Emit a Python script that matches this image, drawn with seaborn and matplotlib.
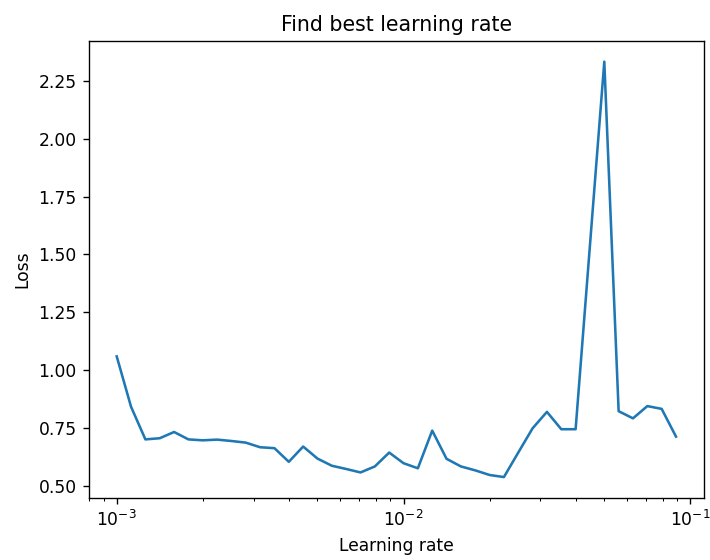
import numpy as np
import pandas as pd
import seaborn as sns
import matplotlib
matplotlib.use("Agg")
import matplotlib.pyplot as plt

# learning rates tried: 20 steps per decade starting at 1e-3
lr_exponents = np.arange(40) / 20 - 3
learning_rates = 10 ** lr_exponents

losses = [1.059, 0.841, 0.700, 0.705, 0.732, 0.700, 0.696, 0.699, 0.693, 0.686,
          0.666, 0.662, 0.603, 0.669, 0.617, 0.586, 0.572, 0.557, 0.583, 0.643,
          0.597, 0.575, 0.738, 0.616, 0.583, 0.566, 0.546, 0.537, 0.643, 0.748,
          0.819, 0.744, 0.744, 1.540, 2.334, 0.822, 0.791, 0.844, 0.832, 0.712]

df = pd.DataFrame({"lr": learning_rates, "loss": losses})

# reference looks rendered at a higher dpi, so text is a bit larger
fig, ax = plt.subplots(figsize=(710 / 123, 560 / 123), dpi=123)
sns.lineplot(x="lr", y="loss", data=df, ax=ax, color="#1f77b4", linewidth=1.5)
ax.set_xscale("log")
ax.set_title("Find best learning rate")
ax.set_xlabel("Learning rate")
ax.set_ylabel("Loss")
plt.subplots_adjust(left=0.125, right=0.9915, top=0.927, bottom=0.111)
plt.savefig("out.png")
